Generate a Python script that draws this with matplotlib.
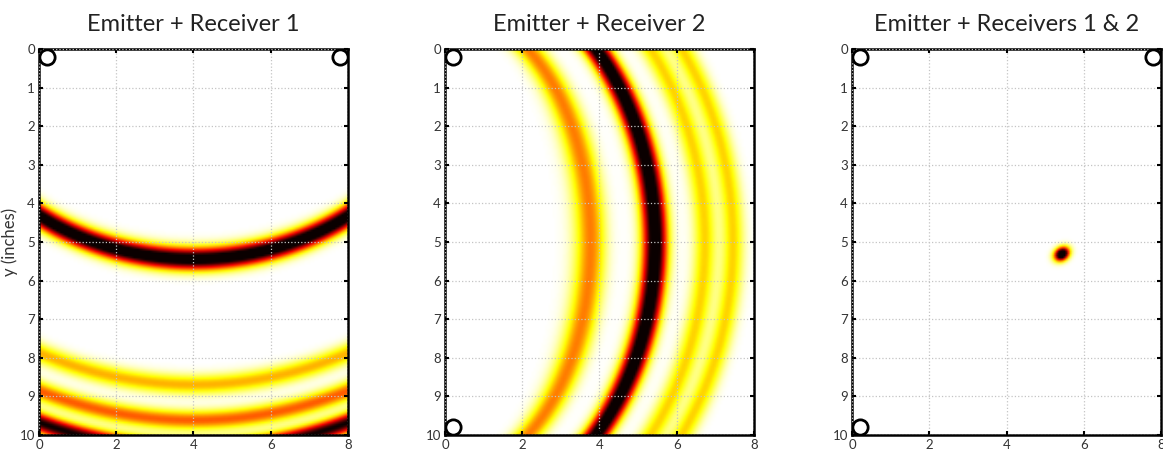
import numpy as np
import matplotlib
matplotlib.use("Agg")
import matplotlib.pyplot as plt

plt.rcParams['font.family'] = ['Lato', 'DejaVu Sans']

# sensor positions (inches)
emitter = (0.2, 0.2)
receiver1 = (7.8, 0.2)
receiver2 = (0.2, 9.8)

# echo arrivals for each receiver: total path length (inches) and relative strength
echo_path_r1 = [12.95, 18.65, 20.35, 21.8]
echo_amp_r1 = [1.15, 0.37, 0.5, 1.0]
echo_path_r2 = [11.95, 14.2, 16.2, 17.4]
echo_amp_r2 = [0.45, 1.15, 0.32, 0.32]
pulse_width = 0.33

titles = ['Emitter + Receiver 1', 'Emitter + Receiver 2', 'Emitter + Receivers 1 & 2']
xticks = [0, 2, 4, 6, 8]
yticks = list(range(11))

x = np.linspace(0, 8, 161)
y = np.linspace(0, 10, 201)
X, Y = np.meshgrid(x, y)


def dist(p):
    return np.hypot(X - p[0], Y - p[1])


def backproject(rx, paths, amps):
    d = dist(emitter) + dist(rx)
    img = np.zeros_like(d)
    for p, a in zip(paths, amps):
        img += a * np.exp(-(d - p) ** 2 / (2 * pulse_width ** 2))
    return img, d


img1, d1 = backproject(receiver1, echo_path_r1, echo_amp_r1)
img2, d2 = backproject(receiver2, echo_path_r2, echo_amp_r2)

# combine the direct arrivals from both receivers
m1 = echo_path_r1[0]
m2 = echo_path_r2[1]
g1 = np.exp(-(d1 - m1) ** 2 / (2 * pulse_width ** 2))
g2 = np.exp(-(d2 - m2) ** 2 / (2 * pulse_width ** 2))
img3 = 1.4 * (g1 * g2) ** 3

images = [img1, img2, img3]
sensors = [[emitter, receiver1], [emitter, receiver2], [emitter, receiver1, receiver2]]

fig = plt.figure(figsize=(11.63, 4.55), dpi=100)
lefts = [0.0335, 0.3826, 0.7326]
for i in range(3):
    ax = fig.add_axes([lefts[i], 0.044, 0.2657, 0.848])
    ax.imshow(images[i], cmap='hot_r', vmin=0, vmax=1, extent=[0, 8, 10, 0],
              interpolation='bilinear', aspect='auto', zorder=0)
    for sx, sy in sensors[i]:
        ax.plot(sx, sy, 'o', ms=11, mfc='none', mec='black', mew=2, zorder=3)
    ax.set_xlim(0, 8)
    ax.set_ylim(10, 0)
    ax.set_xticks(xticks)
    ax.set_yticks(yticks)
    ax.grid(True, linestyle=':', color='#c4c4c4', linewidth=0.9)
    ax.set_axisbelow(False)
    ax.tick_params(direction='in', top=True, right=True, length=3, width=1.5,
                   labelsize=9.5, pad=3, colors='black', labelcolor='#333333')
    for s in ax.spines.values():
        s.set_linewidth(1.8)
    ax.set_title(titles[i], fontsize=17, pad=13, color='#222222')
    if i == 0:
        ax.set_ylabel('y (inches)', fontsize=12, labelpad=1, color='#333333')

fig.savefig('out.png', dpi=100)
